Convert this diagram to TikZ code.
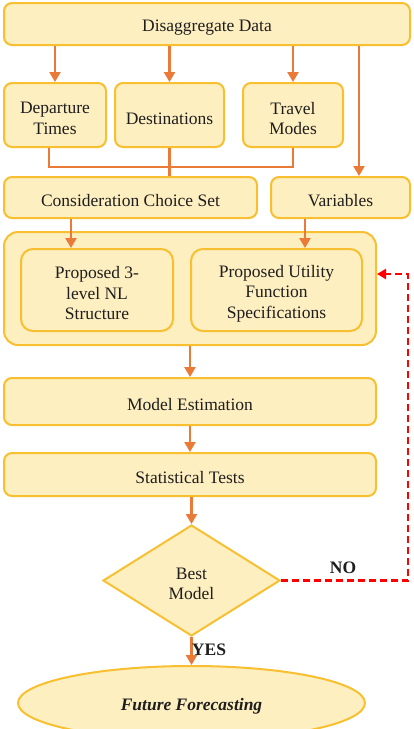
\documentclass[tikz,border=0pt]{standalone}
\usepackage{fontspec}
\setmainfont{Liberation Serif}
\usetikzlibrary{shapes.geometric,arrows.meta}
\definecolor{boxfill}{HTML}{FEEFC0}
\definecolor{boxline}{HTML}{F8C030}
\definecolor{arr}{HTML}{EA7A38}
\definecolor{txt}{HTML}{1E1E1E}
\begin{document}
\begin{tikzpicture}[x=1pt,y=-1pt,
  boxtext/.style={inner sep=0pt,align=center,text=txt,yshift=-3.5pt,font=\fontsize{17.5}{20.5}\selectfont},
  box/.style={draw=boxline,fill=boxfill,line width=2pt,rounded corners=8pt,inner sep=0pt,
    label={[boxtext]center:#1}},
  flow/.style={draw=arr,line width=2.8pt,-{Triangle[length=10pt,width=11pt]}},
  mergeline/.style={draw=arr,line width=2.6pt},
  back/.style={draw=red,line width=2.8pt,dash pattern=on 7pt off 4pt,-{Triangle[length=9pt,width=10pt]}}]
\useasboundingbox (0,0) rectangle (413,729);
\fill[white] (0,0) rectangle (413,729);
% nodes
\node[box={Disaggregate Data},minimum width=406pt,minimum height=42pt] (top) at (207,24) {};
\node[box={Departure\\Times},minimum width=102pt,minimum height=64pt] (dep) at (55,115) {};
\node[box={Destinations},minimum width=109pt,minimum height=64pt] (dest) at (169.5,115) {};
\node[box={Travel\\Modes},minimum width=100pt,minimum height=64pt] (trav) at (293,115) {};
\node[box={Consideration Choice Set},minimum width=253pt,minimum height=41pt] (cons) at (130.5,197.5) {};
\node[box={Variables},minimum width=139pt,minimum height=41pt] (var) at (340.5,197.5) {};
\node[box={},minimum width=372pt,minimum height=113pt,rounded corners=14pt] (cont) at (190,288.5) {};
\node[box={Proposed 3-\\level NL\\Structure},minimum width=152pt,minimum height=82pt,rounded corners=12pt] (nl) at (97,290) {};
\node[box={Proposed Utility\\Function\\Specifications},minimum width=171pt,minimum height=82pt,rounded corners=12pt] (util) at (276.5,290) {};
\node[box={Model Estimation},minimum width=372pt,minimum height=47pt] (est) at (190,401.5) {};
\node[box={Statistical Tests},minimum width=372pt,minimum height=43pt] (stat) at (190,474.5) {};
\node[box={Best\\Model},diamond,rounded corners=0pt,aspect=1.6,minimum width=177pt,minimum height=111pt] (best) at (191.5,580.5) {};
\node[box={\bfseries\itshape Future Forecasting},ellipse,rounded corners=0pt,minimum width=347pt,minimum height=74pt] (fut) at (191.5,703) {};
% coordinates for off-centre connectors
\coordinate (xv) at (359,0);
\coordinate (xd) at (49,0);
\coordinate (xj) at (0,167);
\coordinate (xc) at (71,0);
\coordinate (xu) at (305,0);
\coordinate (xr) at (408,0);
\coordinate (yr) at (0,274);
% arrows
\draw[flow] (top.south -| dep) -- (dep.north);
\draw[flow] (top.south -| dest) -- (dest.north);
\draw[flow] (top.south -| trav) -- (trav.north);
\draw[flow] (top.south -| xv) -- (var.north -| xv);
\draw[mergeline] (dep.south -| xd) -- (xd |- xj) -- (trav |- xj) -- (trav.south);
\draw[mergeline] (dest.south) -- (cons.north -| dest);
\draw[flow] (cons.south -| xc) -- (nl.north -| xc);
\draw[flow] (var.south -| xu) -- (util.north -| xu);
\draw[flow] (cont.south) -- (est.north);
\draw[flow] (est.south) -- (stat.north);
\draw[flow] (stat.south -| best) -- (best.north);
\draw[flow] (best.south) -- (fut.north);
\draw[back] (best.east) -- (xr |- best.east) -- (xr |- yr) -- (cont.east |- yr);
\node[font=\fontsize{17.5}{20.5}\selectfont\bfseries,text=txt] (no) at (343,568) {NO};
\node[font=\fontsize{17.5}{20.5}\selectfont\bfseries,text=txt] (yes) at (209,650) {YES};
\end{tikzpicture}
\end{document}
